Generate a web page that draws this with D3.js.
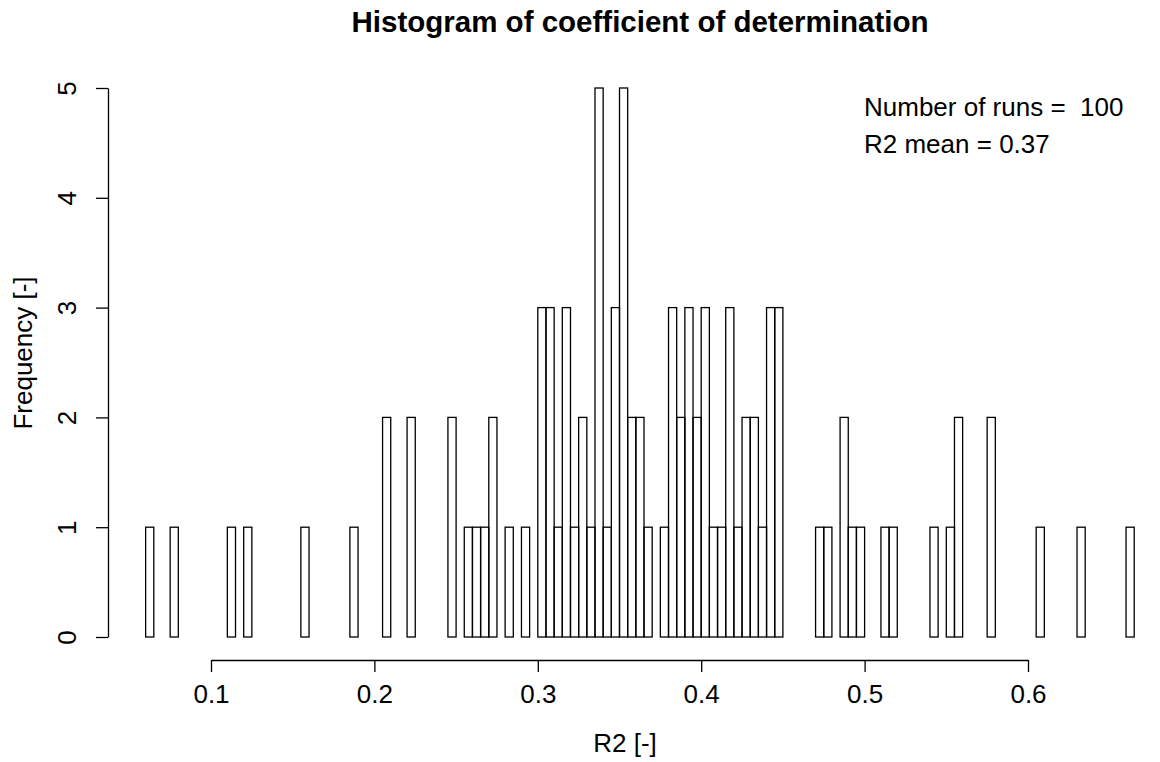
<!DOCTYPE html>
<html>
<head>
<meta charset="utf-8">
<script src="https://cdn.jsdelivr.net/npm/d3@7"></script>
<style>
  html, body { margin: 0; padding: 0; background: #fff; }
  svg { display: block; font-family: Arial, "Liberation Sans", sans-serif; }
</style>
</head>
<body>
<div id="chart"></div>
<script>
// Histogram of R2 over 100 runs, bins of 0.005 starting at 0.060
const binStart = 0.060;
const binWidth = 0.005;
const counts = [
  1, 0, 0, 1, 0, 0, 0, 0, 0, 0,   // 0.060 - 0.105
  1, 0, 1, 0, 0, 0, 0, 0, 0, 1,   // 0.110 - 0.155
  0, 0, 0, 0, 0, 1, 0, 0, 0, 2,   // 0.160 - 0.205
  0, 0, 2, 0, 0, 0, 0, 2, 0, 1,   // 0.210 - 0.255
  1, 1, 2, 0, 1, 0, 1, 0, 3, 3,   // 0.260 - 0.305
  1, 3, 1, 2, 1, 5, 1, 3, 5, 2,   // 0.310 - 0.355
  2, 1, 0, 1, 3, 2, 3, 2, 3, 1,   // 0.360 - 0.405
  1, 3, 1, 2, 2, 1, 3, 3, 0, 0,   // 0.410 - 0.455
  0, 0, 1, 1, 0, 2, 1, 1, 0, 0,   // 0.460 - 0.505
  1, 1, 0, 0, 0, 0, 1, 0, 1, 2,   // 0.510 - 0.555
  0, 0, 0, 2, 0, 0, 0, 0, 0, 1,   // 0.560 - 0.605
  0, 0, 0, 0, 1, 0, 0, 0, 0, 0,   // 0.610 - 0.655
  1                               // 0.660
];
const xTicks = [0.1, 0.2, 0.3, 0.4, 0.5, 0.6];
const yTicks = [0, 1, 2, 3, 4, 5];
const noteLines = ["Number of runs =  100", "R2 mean = 0.37"];

const W = 1160, H = 762;
const FONT = "Arial, 'Liberation Sans', sans-serif";

const x = d3.scaleLinear().domain([0.1, 0.6]).range([211, 1028]);
const y = d3.scaleLinear().domain([0, 5]).range([637, 88]);

const svg = d3.select("#chart").append("svg")
  .attr("width", W).attr("height", H)
  .attr("viewBox", `0 0 ${W} ${H}`);

// Bars (zero-count bins collapse to the baseline, as in R)
const bins = counts.map((c, i) => ({ x0: binStart + i * binWidth, x1: binStart + (i + 1) * binWidth, n: c }));
svg.append("g")
  .selectAll("rect")
  .data(bins)
  .join("rect")
    .attr("x", d => x(d.x0))
    .attr("y", d => y(d.n))
    .attr("width", d => x(d.x1) - x(d.x0))
    .attr("height", d => y(0) - y(d.n))
    .attr("fill", "none")
    .attr("stroke", "#000")
    .attr("stroke-width", 1.3);

// X axis
const xAxisG = svg.append("g")
  .attr("transform", "translate(0,660)")
  .call(d3.axisBottom(x).tickValues(xTicks).tickFormat(d3.format(".1f")).tickSize(12).tickSizeOuter(0));
xAxisG.select(".domain").attr("stroke", "#000").attr("stroke-width", 1.3);
xAxisG.selectAll(".tick line").attr("stroke", "#000").attr("stroke-width", 1.3);
xAxisG.selectAll("text")
  .attr("fill", "#000")
  .attr("font-size", "26px")
  .attr("font-family", FONT)
  .attr("dy", null)
  .attr("y", 43);

// Y axis, labels rotated as R does by default
const yAxisG = svg.append("g")
  .attr("transform", "translate(108,0)")
  .call(d3.axisLeft(y).tickValues(yTicks).tickFormat(d3.format("d")).tickSize(12).tickSizeOuter(0));
yAxisG.select(".domain").attr("stroke", "#000").attr("stroke-width", 1.3);
yAxisG.selectAll(".tick line").attr("stroke", "#000").attr("stroke-width", 1.3);
yAxisG.selectAll("text")
  .attr("fill", "#000")
  .attr("font-size", "26px")
  .attr("font-family", FONT)
  .attr("x", null).attr("dy", null)
  .attr("text-anchor", "middle")
  .attr("transform", "translate(-32,0) rotate(-90)")
  .attr("y", 0);

// Titles
svg.append("text")
  .attr("x", 640).attr("y", 32)
  .attr("text-anchor", "middle")
  .attr("font-size", "29.5px")
  .attr("font-weight", "bold")
  .text("Histogram of coefficient of determination");

svg.append("text")
  .attr("x", 625).attr("y", 752)
  .attr("text-anchor", "middle")
  .attr("font-size", "26px")
  .text("R2 [-]");

svg.append("text")
  .attr("transform", "translate(32,353) rotate(-90)")
  .attr("text-anchor", "middle")
  .attr("font-size", "26px")
  .text("Frequency [-]");

// Run summary in the top right
svg.append("g")
  .selectAll("text")
  .data(noteLines)
  .join("text")
    .attr("x", 864)
    .attr("y", (d, i) => 116 + i * 37)
    .attr("font-size", "26px")
    .attr("xml:space", "preserve")
    .style("white-space", "pre")
    .text(d => d);
</script>
</body>
</html>
